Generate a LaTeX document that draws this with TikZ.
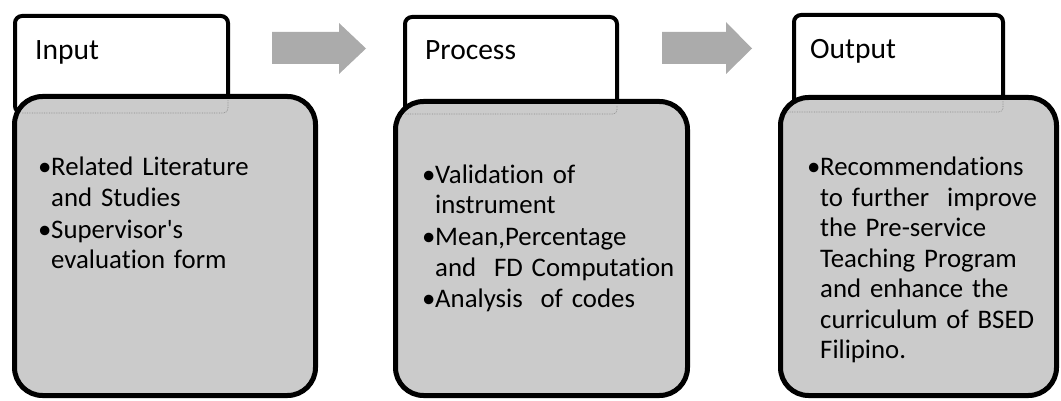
\documentclass[tikz,border=0pt]{standalone}
\usepackage{fontspec}
\setmainfont{Carlito}[Ligatures={NoCommon}]
\definecolor{arrowgray}{HTML}{ABABAB}
\definecolor{bodygray}{HTML}{CBCBCB}
\definecolor{ghostgray}{HTML}{8A8A8A}
\newcommand\bul{\makebox[13pt][l]{\textbullet}}
\newcommand\ind{\hspace*{13pt}}
\begin{document}
\begin{tikzpicture}[x=1pt,y=-1pt,
  hdr/.style={draw=black, line width=4pt, fill=white, rounded corners=7pt},
  bodybox/.style={draw=black, line width=5pt, fill=bodygray, rounded corners=28pt},
  ghost/.style={draw=ghostgray, densely dotted, line width=0.7pt},
  blockarrow/.style={fill=arrowgray, draw=none},
  hdrtext/.style={anchor=base west, inner sep=0pt, font=\fontsize{29.5}{32}\selectfont},
  bodytext/.style={anchor=base west, inner sep=0pt, text width=#1, align=left,
    font=\fontsize{26.8}{30.5}\selectfont},
]
\useasboundingbox (0,0) rectangle (1061,401);

% block arrows
\fill[blockarrow] (272,32) -- (339,32) -- (339,23) -- (366,48.5) -- (339,74) -- (339,64) -- (272,64) -- cycle;
\fill[blockarrow] (662,32) -- (726,32) -- (726,22) -- (752,48.5) -- (726,74) -- (726,64) -- (662,64) -- cycle;

% header boxes
\draw[hdr] (15,16) rectangle (228,113);
\draw[hdr] (405,17) rectangle (617,113);
\draw[hdr] (794,15) rectangle (1003,113);

% body boxes
\draw[bodybox] (14.5,96.5) rectangle (315.5,395.5);
\draw[bodybox] (395.5,101.5) rectangle (687.5,395.5);
\draw[bodybox] (780.5,97.5) rectangle (1056.5,395.5);

% ghost edges of the headers seen through the bodies
\draw[ghost] (22,113) -- (224,113) to[out=0,in=-90] (228,108) -- (228,100);
\draw[ghost] (405,114) -- (613,114) to[out=0,in=-90] (617,110) -- (617,105);
\draw[ghost] (787,112) -- (999,112) to[out=0,in=-90] (1003,108) -- (1003,101);

% header labels
\node[hdrtext] (hin) at (35,60) {Input};
\node[hdrtext] (hpr) at (425,60) {Process};
\node[hdrtext] (hout) at (810,58.5) {Output};

% body texts
\node[bodytext=275pt] (tin) at (38,176) {%
\bul Related Literature\\\ind and Studies\\[1.5pt]
\bul Supervisor\textquotesingle s\\\ind evaluation form};
\node[bodytext=285pt] (tpr) at (422,183) {%
\bul Validation of\\\ind instrument\\[1.5pt]
\bul Mean,Percentage\\\ind and\ \ FD Computation\\[1.5pt]
\bul Analysis\ \ of codes};
\node[bodytext=275pt] (tout) at (807,176) {%
\bul Recommendations\\\ind to further\ \ improve\\\ind the Pre-service\\\ind Teaching Program\\\ind and enhance the\\\ind curriculum of BSED\\\ind Filipino.};
\end{tikzpicture}
\end{document}
